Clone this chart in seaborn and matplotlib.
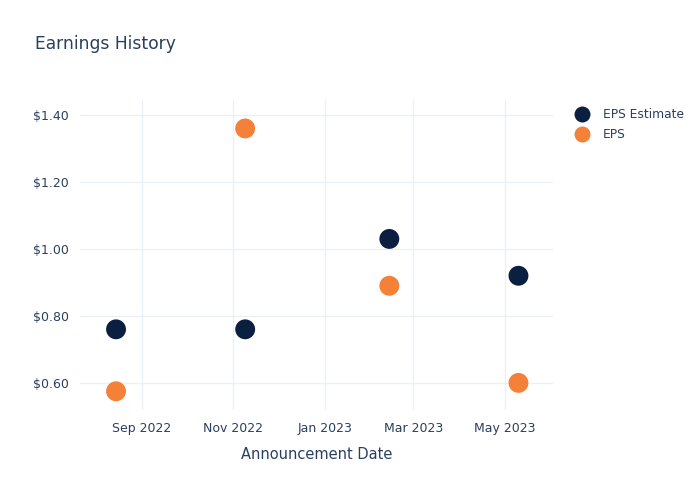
import matplotlib
matplotlib.use("Agg")
import matplotlib.pyplot as plt
import matplotlib.dates as mdates
from matplotlib.ticker import FuncFormatter
from matplotlib.lines import Line2D
import seaborn as sns
import pandas as pd

dates = ["2022-08-15", "2022-11-09", "2023-02-13", "2023-05-10"]
eps_estimate = [0.76, 0.76, 1.03, 0.92]
eps_actual = [0.575, 1.36, 0.89, 0.60]
series_names = ["EPS Estimate", "EPS"]
colors = ["#0b1f41", "#f58138"]

df = pd.DataFrame({
    "date": pd.to_datetime(dates * 2),
    "value": eps_estimate + eps_actual,
    "series": [series_names[0]] * len(dates) + [series_names[1]] * len(dates),
})

sns.set_style("white")
plt.rcParams["font.family"] = ["DejaVu Sans"]
text_color = "#2a3f5f"

fig = plt.figure(figsize=(7, 5), dpi=100)
ax = fig.add_axes([80 / 700, 1 - 410 / 500, (553 - 80) / 700, 310 / 500])

sns.scatterplot(data=df, x="date", y="value", hue="series",
                palette=dict(zip(series_names, colors)), s=205,
                edgecolor="none", ax=ax, legend=False, zorder=3)

ax.set_xlim(pd.Timestamp("2022-07-22"), pd.Timestamp("2023-06-02"))
ax.set_ylim(0.519, 1.445)
ax.set_yticks([0.6, 0.8, 1.0, 1.2, 1.4])
ax.yaxis.set_major_formatter(FuncFormatter(lambda v, p: f"${v:.2f}"))
ax.set_xticks(pd.to_datetime(["2022-09-01", "2022-11-01", "2023-01-01", "2023-03-01", "2023-05-01"]))
ax.xaxis.set_major_formatter(mdates.DateFormatter("%b %Y"))

ax.grid(True, color="#ebf0f8", linewidth=1)
ax.set_axisbelow(True)
for s in ax.spines.values():
    s.set_visible(False)
ax.tick_params(axis="both", length=0, labelsize=9, colors=text_color)
ax.tick_params(axis="x", pad=8.5)
ax.tick_params(axis="y", pad=8)
ax.set_xlabel("Announcement Date", fontsize=10.5, color=text_color, labelpad=9)
ax.set_ylabel("")

fig.text(35 / 700, 1 - 44 / 500, "Earnings History", fontsize=12.3, color=text_color,
         va="center", ha="left")

handles = [Line2D([0], [0], marker="o", linestyle="none", markersize=11.5,
                  markerfacecolor=c, markeredgecolor="none") for c in colors]
leg = fig.legend(handles, series_names, loc="upper left",
                 bbox_to_anchor=(570 / 700, 1 - 103 / 500), frameon=False,
                 fontsize=8.8, labelcolor=text_color, handletextpad=1.1,
                 labelspacing=0.6, handlelength=1.2, borderaxespad=0)

fig.savefig("out.png", dpi=100, facecolor="white")
